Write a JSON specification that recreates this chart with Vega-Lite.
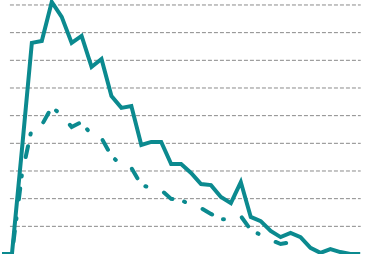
{
  "$schema": "https://vega.github.io/schema/vega-lite/v6.json",
  "width": 365,
  "height": 254,
  "padding": 0,
  "autosize": {"type": "none"},
  "background": "white",
  "config": {"view": {"stroke": null}},
  "datasets": {
    "grid": [{"g": 1}, {"g": 2}, {"g": 3}, {"g": 4}, {"g": 5}, {"g": 6}, {"g": 7}, {"g": 8}, {"g": 9}],
    "series": [
      {"i": 0, "s": "A", "v": 0}, {"i": 1, "s": "A", "v": 0}, {"i": 2, "s": "A", "v": 3.76}, {"i": 3, "s": "A", "v": 7.63},
      {"i": 4, "s": "A", "v": 7.70}, {"i": 5, "s": "A", "v": 9.11}, {"i": 6, "s": "A", "v": 8.57}, {"i": 7, "s": "A", "v": 7.63},
      {"i": 8, "s": "A", "v": 7.88}, {"i": 9, "s": "A", "v": 6.76}, {"i": 10, "s": "A", "v": 7.05}, {"i": 11, "s": "A", "v": 5.71},
      {"i": 12, "s": "A", "v": 5.28}, {"i": 13, "s": "A", "v": 5.35}, {"i": 14, "s": "A", "v": 3.94}, {"i": 15, "s": "A", "v": 4.05},
      {"i": 16, "s": "A", "v": 4.05}, {"i": 17, "s": "A", "v": 3.25}, {"i": 18, "s": "A", "v": 3.25}, {"i": 19, "s": "A", "v": 2.93},
      {"i": 20, "s": "A", "v": 2.53}, {"i": 21, "s": "A", "v": 2.49}, {"i": 22, "s": "A", "v": 2.06}, {"i": 23, "s": "A", "v": 1.84},
      {"i": 24, "s": "A", "v": 2.60}, {"i": 25, "s": "A", "v": 1.34}, {"i": 26, "s": "A", "v": 1.19}, {"i": 27, "s": "A", "v": 0.83},
      {"i": 28, "s": "A", "v": 0.61}, {"i": 29, "s": "A", "v": 0.76}, {"i": 30, "s": "A", "v": 0.61}, {"i": 31, "s": "A", "v": 0.22},
      {"i": 32, "s": "A", "v": 0.04}, {"i": 33, "s": "A", "v": 0.18}, {"i": 34, "s": "A", "v": 0.07}, {"i": 35, "s": "A", "v": 0},
      {"i": 36, "s": "A", "v": 0},
      {"i": 0, "s": "B", "v": 0}, {"i": 1, "s": "B", "v": 0}, {"i": 2, "s": "B", "v": 2.86}, {"i": 3, "s": "B", "v": 4.55},
      {"i": 4, "s": "B", "v": 4.66}, {"i": 5, "s": "B", "v": 5.31}, {"i": 6, "s": "B", "v": 5.02}, {"i": 7, "s": "B", "v": 4.59},
      {"i": 8, "s": "B", "v": 4.77}, {"i": 9, "s": "B", "v": 4.30}, {"i": 10, "s": "B", "v": 4.19}, {"i": 11, "s": "B", "v": 3.54},
      {"i": 12, "s": "B", "v": 3.22}, {"i": 13, "s": "B", "v": 3.11}, {"i": 14, "s": "B", "v": 2.49}, {"i": 15, "s": "B", "v": 2.39},
      {"i": 16, "s": "B", "v": 2.31}, {"i": 17, "s": "B", "v": 1.99}, {"i": 18, "s": "B", "v": 1.95}, {"i": 19, "s": "B", "v": 1.77},
      {"i": 20, "s": "B", "v": 1.66}, {"i": 21, "s": "B", "v": 1.45}, {"i": 22, "s": "B", "v": 1.26}, {"i": 23, "s": "B", "v": 1.26},
      {"i": 24, "s": "B", "v": 1.37}, {"i": 25, "s": "B", "v": 0.87}, {"i": 26, "s": "B", "v": 0.69}, {"i": 27, "s": "B", "v": 0.51},
      {"i": 28, "s": "B", "v": 0.36}, {"i": 29, "s": "B", "v": 0.43}
    ]
  },
  "layer": [
    {
      "data": {"name": "grid"},
      "mark": {"type": "rule", "color": "#8a8a8a", "strokeWidth": 1, "strokeDash": [4, 2]},
      "encoding": {
        "y": {"field": "g", "type": "quantitative", "scale": {"domain": [0, 9.18], "nice": false, "zero": false}, "axis": null},
        "x": {"datum": 0.8, "type": "quantitative"},
        "x2": {"datum": 36.05}
      }
    },
    {
      "data": {"name": "series"},
      "transform": [{"filter": "datum.s === 'B'"}],
      "mark": {"type": "line", "color": "#0b8a8f", "strokeWidth": 4, "strokeCap": "round", "strokeDash": [11, 12, 1, 19], "strokeDashOffset": 21},
      "encoding": {
        "x": {"field": "i", "type": "quantitative"},
        "y": {"field": "v", "type": "quantitative"}
      }
    },
    {
      "data": {"name": "series"},
      "transform": [{"filter": "datum.s === 'A'"}],
      "mark": {"type": "line", "color": "#0b8a8f", "strokeWidth": 4},
      "encoding": {
        "x": {"field": "i", "type": "quantitative"},
        "y": {"field": "v", "type": "quantitative"}
      }
    }
  ],
  "encoding": {
    "x": {
      "type": "quantitative",
      "scale": {"domain": [-0.2, 36.48], "nice": false, "zero": false},
      "axis": {
        "title": null,
        "labels": false,
        "grid": false,
        "values": [0.5, 1.5, 2.5, 3.5, 4.5, 5.5, 6.5, 7.5, 8.5, 9.5, 10.5, 11.5, 12.5, 13.5, 14.5, 15.5, 16.5, 17.5, 18.5, 19.5, 20.5, 21.5, 22.5, 23.5, 24.5, 25.5, 26.5, 27.5, 28.5, 29.5, 30.5, 31.5, 32.5, 33.5, 34.5, 35.5],
        "domainColor": "#8a8a8a",
        "tickColor": "#8a8a8a",
        "tickSize": 5,
        "domainWidth": 1,
        "tickWidth": 1
      }
    }
  }
}
